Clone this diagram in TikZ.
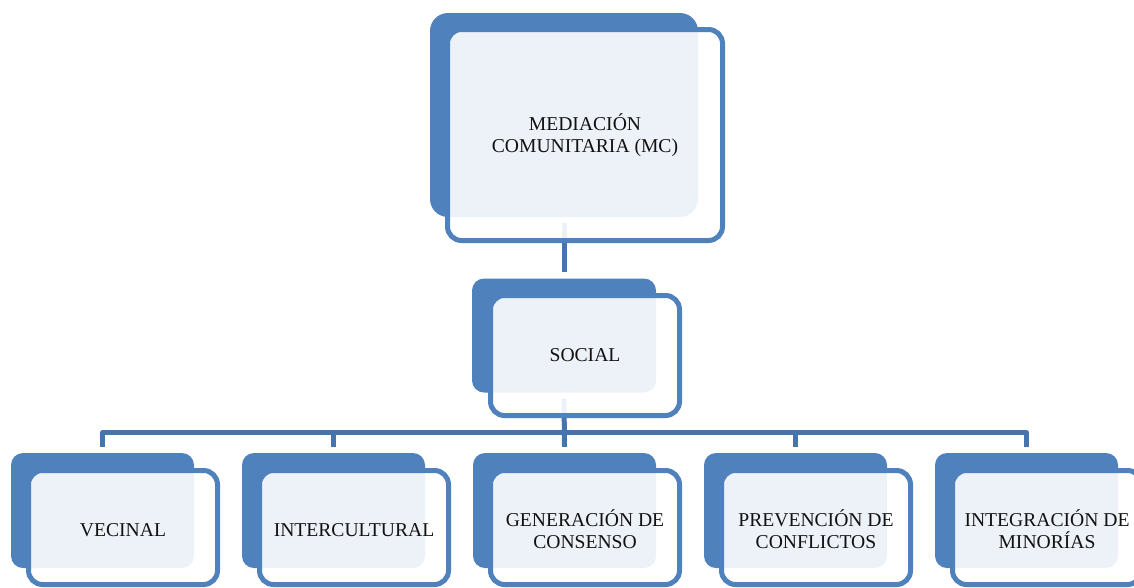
\documentclass[tikz,border=0pt]{standalone}
\usepackage{fontspec}
\setmainfont{Liberation Serif}
\definecolor{accent}{HTML}{4F81BD}
\definecolor{linkblue}{HTML}{4675AE}
\definecolor{ink}{HTML}{111111}
\tikzset{
  backbox/.style={fill=accent, draw=none, rounded corners=12pt, inner sep=0pt},
  frontbox/.style={draw=accent, line width=5pt, fill=white, fill opacity=0.9,
    rounded corners=14pt, inner sep=0pt},
  labeltext/.style={text=ink, font=\fontsize{19.6}{22}\selectfont, align=center, inner sep=0pt},
  link/.style={draw=linkblue, line width=5pt, line join=round},
}
\begin{document}
\begin{tikzpicture}[x=1pt, y=-1pt]
\useasboundingbox (0,0) rectangle (1134,587);

% back plates
\node[backbox, rounded corners=18pt, minimum width=268pt, minimum height=204pt] (b0) at (564,115) {};
\node[backbox, minimum width=184pt, minimum height=114pt] (bs) at (564,335.5) {};
\foreach \i in {1,...,5}{
  \node[backbox, minimum width=183pt, minimum height=115pt] (b\i) at ({102.5+231*(\i-1)},510.5) {};
}

% connectors
\draw[link] ([yshift=-6pt]b0.south) -- ([yshift=6pt]bs.north);
\draw[link] ([yshift=-6pt]bs.south) -- ([yshift=6pt]b3.north);
\coordinate (busL) at ([yshift=20pt]b1.north);
\coordinate (busR) at ([yshift=20pt]b5.north);
\draw[link] ([yshift=6pt]b1.north) -- (busL) -- (busR) -- ([yshift=6pt]b5.north);
\draw[link] ([yshift=20pt]b2.north) -- ([yshift=6pt]b2.north);
\draw[link] ([yshift=20pt]b4.north) -- ([yshift=6pt]b4.north);

% front panels
\node[frontbox, minimum width=275pt, minimum height=211pt] (f0) at (585,135) {};
\node[frontbox, minimum width=189pt, minimum height=120pt] (fs) at (585,355.5) {};
\foreach \i in {1,...,5}{
  \node[frontbox, minimum width=189pt, minimum height=114pt] (f\i) at ([shift={(20.5pt,-17pt)}]b\i.center) {};
}

% labels
\node[labeltext] (t0) at (f0.center) {MEDIACIÓN\\COMUNITARIA (MC)};
\node[labeltext] (ts) at (fs.center) {SOCIAL};
\node[labeltext] (t1) at ([yshift=-3pt]f1.center) {VECINAL};
\node[labeltext] (t2) at ([yshift=-3pt]f2.center) {INTERCULTURAL};
\node[labeltext] (t3) at ([yshift=-2pt]f3.center) {GENERACIÓN DE\\CONSENSO};
\node[labeltext] (t4) at ([yshift=-2pt]f4.center) {PREVENCIÓN DE\\CONFLICTOS};
\node[labeltext] (t5) at ([yshift=-2pt]f5.center) {INTEGRACIÓN DE\\MINORÍAS};
\end{tikzpicture}
\end{document}
